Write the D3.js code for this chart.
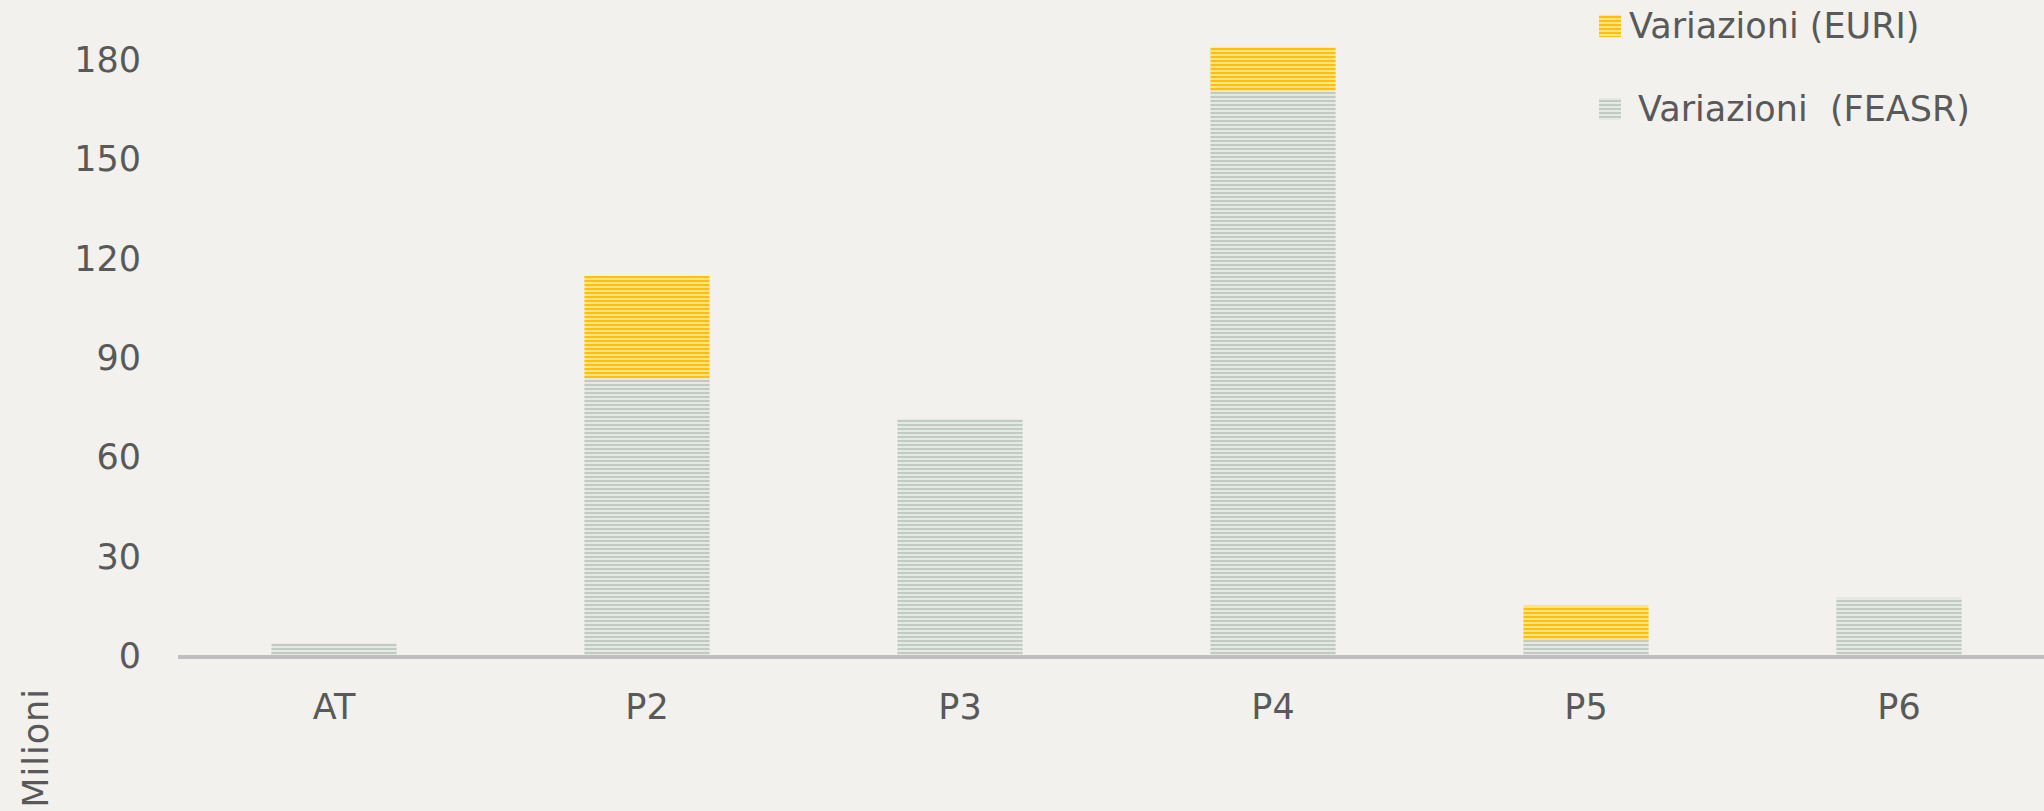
<!DOCTYPE html>
<html>
<head>
<meta charset="utf-8">
<script src="https://cdn.jsdelivr.net/npm/d3@7"></script>
<style>
    body { margin: 0; background: #F2F1ED; }
    svg { display: block; }
    text { font-family: "DejaVu Sans", sans-serif; fill: #595959; }
</style>
</head>
<body>
<script>
// data (milioni di euro)
var categories = ["AT", "P2", "P3", "P4", "P5", "P6"];
var feasr = [3.5, 83.6, 71.3, 170.4, 4.5, 17.3];
var euri = [0, 30.9, 0, 13.1, 10.4, 0];
var yTicks = [0, 30, 60, 90, 120, 150, 180];
var seriesNames = ["Variazioni (EURI)", "Variazioni  (FEASR)"];

function init() {

    var width = 2044;
    var height = 811;

    var svg = d3.select("body")
        .append("svg")
        .attr("width", width)
        .attr("height", height);

    // striped fills
    var defs = svg.append("defs");
    function stripes(id, light, dark) {
        var p = defs.append("pattern")
            .attr("id", id)
            .attr("patternUnits", "userSpaceOnUse")
            .attr("width", 4)
            .attr("height", 4);
        p.append("rect").attr("width", 4).attr("height", 4).attr("fill", light);
        p.append("rect").attr("width", 4).attr("height", 2).attr("fill", dark);
    }
    stripes("euri", "#FFE38F", "#FFC000");
    stripes("feasr", "#E5E9E5", "#C2CAC4");

    var xScale = d3.scaleBand()
        .domain(categories)
        .range([177.5, 2055.5])
        .paddingInner(0.6)
        .paddingOuter(0.3);

    var yScale = d3.scaleLinear()
        .domain([0, 180])
        .range([655, 59]);

    // y labels
    svg.selectAll(".ylab")
        .data(yTicks)
        .enter()
        .append("text")
        .attr("class", "ylab")
        .attr("x", 141)
        .attr("y", function(d) { return yScale(d) + 13; })
        .attr("text-anchor", "end")
        .style("font-size", "35px")
        .text(function(d) { return d; });

    // stacked data
    var rows = categories.map(function(c, i) {
        return { cat: c, feasr: feasr[i], euri: euri[i] };
    });
    var stack = d3.stack().keys(["feasr", "euri"])(rows);

    svg.selectAll(".layer")
        .data(stack)
        .enter()
        .append("g")
        .attr("class", "layer")
        .attr("fill", function(d) { return "url(#" + d.key + ")"; })
        .selectAll("rect")
        .data(function(d) { return d.filter(function(v) { return v[1] - v[0] > 0; }); })
        .enter()
        .append("rect")
        .attr("x", function(d) { return xScale(d.data.cat); })
        .attr("y", function(d) { return yScale(d[1]); })
        .attr("width", xScale.bandwidth())
        .attr("height", function(d) { return yScale(d[0]) - yScale(d[1]); });

    // baseline
    svg.append("line")
        .attr("x1", 178)
        .attr("x2", width)
        .attr("y1", 657)
        .attr("y2", 657)
        .attr("stroke", "#BFBFBF")
        .attr("stroke-width", 4);

    // category labels
    svg.selectAll(".xlab")
        .data(categories)
        .enter()
        .append("text")
        .attr("class", "xlab")
        .attr("x", function(d) { return xScale(d) + xScale.bandwidth() / 2; })
        .attr("y", 719)
        .attr("text-anchor", "middle")
        .style("font-size", "35px")
        .text(function(d) { return d; });

    // unit label
    svg.append("text")
        .attr("transform", "translate(48,688) rotate(-90)")
        .attr("text-anchor", "end")
        .style("font-size", "35px")
        .style("letter-spacing", "1px")
        .text("Milioni");

    // legend
    var legend = [
        { name: seriesNames[0], key: "euri", y: 15, tx: 1629 },
        { name: seriesNames[1], key: "feasr", y: 98, tx: 1638 }
    ];
    var lg = svg.selectAll(".legend")
        .data(legend)
        .enter()
        .append("g")
        .attr("class", "legend");
    lg.append("rect")
        .attr("x", 1599)
        .attr("y", function(d) { return d.y; })
        .attr("width", 22)
        .attr("height", 22)
        .attr("fill", function(d) { return "url(#" + d.key + ")"; });
    lg.append("text")
        .attr("x", function(d) { return d.tx; })
        .attr("y", function(d) { return d.y + 23; })
        .style("font-size", "35px")
        .style("white-space", "pre")
        .text(function(d) { return d.name; });
}

window.onload = init;
</script>
</body>
</html>
